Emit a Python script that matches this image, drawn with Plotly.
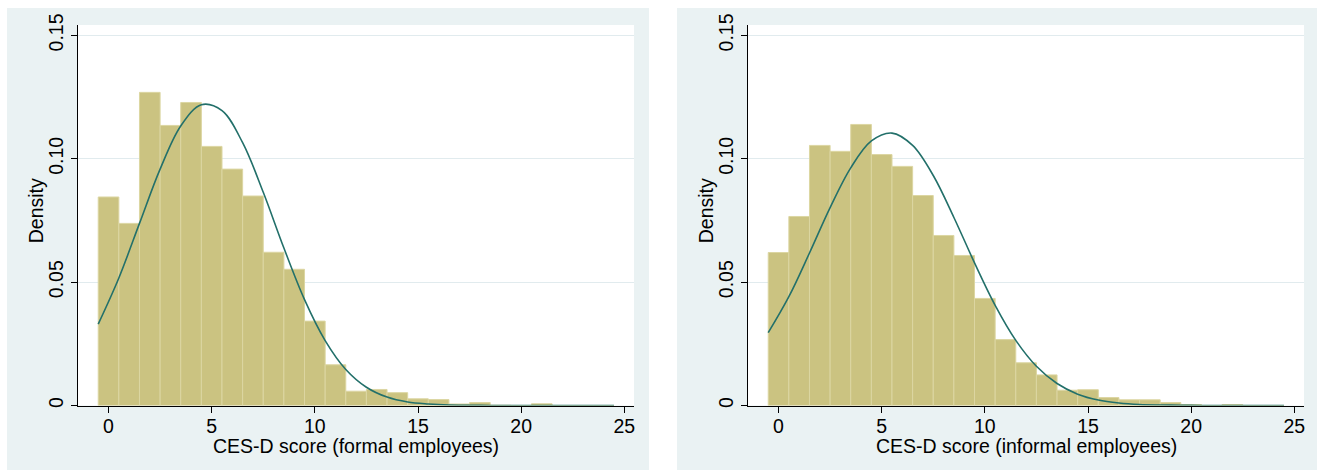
import plotly.graph_objects as go

# ---------------- data ----------------
bin_centers = [0, 1, 2, 3, 4, 5, 6, 7, 8, 9, 10, 11, 12, 13, 14, 15, 16, 17, 18, 19, 20, 21, 22, 23, 24]

formal_density = [0.0845, 0.0738, 0.1269, 0.1135, 0.1228, 0.1050, 0.0958, 0.0849, 0.0621, 0.0552,
                  0.0342, 0.0165, 0.0058, 0.0065, 0.0052, 0.0027, 0.0024, 0.0006, 0.0012, 0.0001,
                  0.0, 0.0007, 0.0, 0.0, 0.0]

informal_density = [0.0620, 0.0766, 0.1054, 0.1030, 0.1139, 0.1017, 0.0969, 0.0851, 0.0689, 0.0608,
                    0.0434, 0.0267, 0.0173, 0.0124, 0.0062, 0.0064, 0.0032, 0.0023, 0.0023, 0.0012,
                    0.0004, 0.0, 0.0004, 0.0, 0.0]

curve_x = [-0.5, 0.5, 1.5, 2.5, 3.5, 4.5, 5.5, 6.5, 7.5, 8.5, 9.5, 10.5, 11.5, 12.5,
           13.5, 14.5, 15.5, 16.5, 17.5, 18.5, 19.5, 20.5, 21.5, 22.5, 23.5, 24.5]

formal_normal = [0.0330, 0.0517, 0.0738, 0.0958, 0.1133, 0.1219, 0.1195, 0.1065, 0.0864, 0.0638,
                 0.0429, 0.0263, 0.0146, 0.0074, 0.0034, 0.0014, 0.0006, 0.0002, 0.0001, 0.0,
                 0.0, 0.0, 0.0, 0.0, 0.0, 0.0]

informal_normal = [0.0295, 0.0441, 0.0618, 0.0802, 0.0963, 0.1072, 0.1104, 0.1054, 0.0932, 0.0762,
                   0.0578, 0.0406, 0.0264, 0.0159, 0.0089, 0.0046, 0.0022, 0.0010, 0.0004, 0.0002,
                   0.0001, 0.0, 0.0, 0.0, 0.0, 0.0]

x_tick_values = [0, 5, 10, 15, 20, 25]
y_tick_values = [0, 0.05, 0.10, 0.15]
y_tick_labels = ["0", "0.05", "0.10", "0.15"]

x_titles = ["CES-D score (formal employees)", "CES-D score (informal employees)"]
y_title = "Density"

# ---------------- style ----------------
W, H = 1319, 471
BG = "#EAF2F3"
BAR = "#CBC381"
BAR_EDGE = "#DCD6A2"
CURVE = "#23706A"
GRID = "#E1EBEE"
FONT = "Liberation Sans, Arial, sans-serif"
FS = 19.5

def px_x(p):
    return p / W

def px_y(p):
    return (H - p) / H

panels = [
    dict(bg=(7, 649), plot=(78, 634), ytitle_x=36),
    dict(bg=(677, 1317), plot=(748, 1304), ytitle_x=706),
]
plot_top, plot_bottom = 25, 405.5
bg_top, bg_bottom = 8, 470
xtitle_y = 446

fig = go.Figure()

series = [(formal_density, formal_normal), (informal_density, informal_normal)]
for i, (dens, norm) in enumerate(series):
    xa = "x" if i == 0 else "x2"
    ya = "y" if i == 0 else "y2"
    fig.add_trace(go.Bar(
        x=bin_centers, y=dens, width=1, xaxis=xa, yaxis=ya,
        marker=dict(color=BAR, line=dict(color=BAR_EDGE, width=1)),
        showlegend=False, hoverinfo="skip",
    ))
    fig.add_trace(go.Scatter(
        x=curve_x, y=norm, xaxis=xa, yaxis=ya, mode="lines",
        line=dict(color=CURVE, width=1.6, shape="spline", smoothing=1),
        showlegend=False, hoverinfo="skip",
    ))

layout_axes = {}
annotations = []
for i, p in enumerate(panels):
    suffix = "" if i == 0 else "2"
    layout_axes["xaxis" + suffix] = dict(
        domain=[px_x(p["plot"][0]), px_x(p["plot"][1])],
        anchor="y" + suffix,
        range=[-1.48, 25.47],
        tickmode="array", tickvals=x_tick_values,
        ticks="outside", ticklen=6, tickcolor="black", tickwidth=1,
        ticklabelstandoff=-3,
        showline=True, linecolor="black", linewidth=1,
        showgrid=False, zeroline=False,
        tickfont=dict(size=FS, color="black", family=FONT),
        automargin=False,
    )
    layout_axes["yaxis" + suffix] = dict(
        domain=[px_y(plot_bottom), px_y(plot_top)],
        anchor="x" + suffix,
        range=[0, 0.1542],
        tickmode="array", tickvals=y_tick_values, ticktext=y_tick_labels,
        tickangle=-90,
        ticks="outside", ticklen=6, tickcolor="black", tickwidth=1,
        ticklabelstandoff=0,
        showline=True, linecolor="black", linewidth=1,
        showgrid=True, gridcolor=GRID, gridwidth=1.2,
        zeroline=False,
        tickfont=dict(size=FS, color="black", family=FONT),
        automargin=False,
    )
    annotations.append(dict(
        text=x_titles[i], xref="paper", yref="paper",
        x=px_x((p["plot"][0] + p["plot"][1]) / 2), y=px_y(xtitle_y),
        xanchor="center", yanchor="middle", showarrow=False,
        font=dict(size=FS, color="black", family=FONT),
    ))
    annotations.append(dict(
        text=y_title, xref="paper", yref="paper",
        x=px_x(p["ytitle_x"]), y=px_y((plot_top + plot_bottom) / 2 - 4),
        xanchor="center", yanchor="middle", showarrow=False, textangle=-90,
        font=dict(size=FS, color="black", family=FONT),
    ))

shapes = []
for p in panels:
    shapes.append(dict(
        type="rect", xref="paper", yref="paper",
        x0=px_x(p["bg"][0]), x1=px_x(p["bg"][1]),
        y0=px_y(bg_bottom), y1=px_y(bg_top),
        fillcolor=BG, line=dict(width=0), layer="below",
    ))
for p in panels:
    shapes.append(dict(
        type="rect", xref="paper", yref="paper",
        x0=px_x(p["plot"][0]), x1=px_x(p["plot"][1]),
        y0=px_y(plot_bottom), y1=px_y(plot_top),
        fillcolor="white", line=dict(width=0), layer="below",
    ))

fig.update_layout(
    width=W, height=H,
    margin=dict(l=0, r=0, t=0, b=0),
    paper_bgcolor="white", plot_bgcolor="white",
    bargap=0, barmode="overlay",
    font=dict(family=FONT, size=FS, color="black"),
    shapes=shapes,
    annotations=annotations,
    showlegend=False,
    **layout_axes,
)

fig.write_html(
    "out.html",
    config={"displayModeBar": False, "staticPlot": True},
    post_script="document.body.style.margin='0';document.body.style.overflow='hidden';",
)
